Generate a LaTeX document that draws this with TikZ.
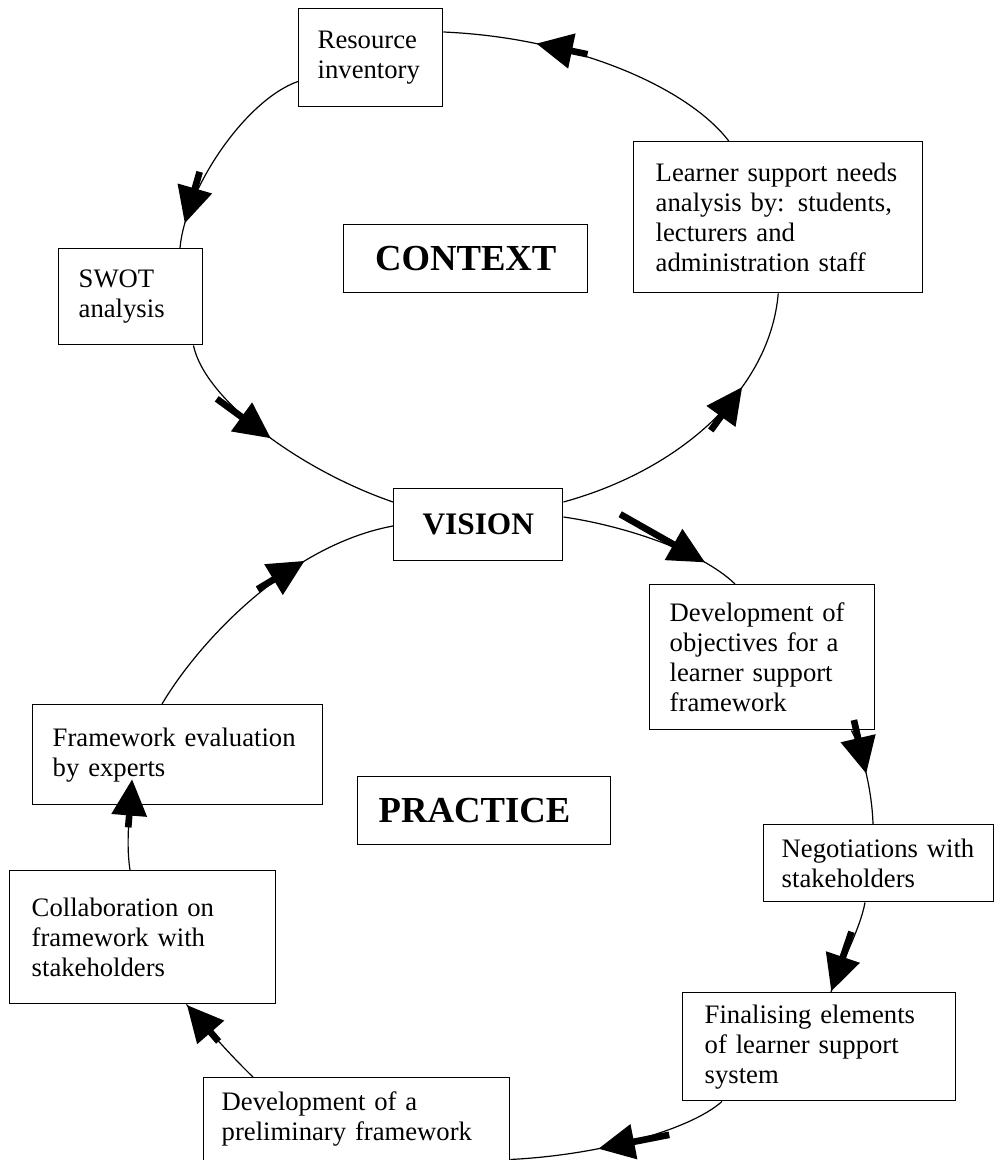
\documentclass[tikz,border=0pt]{standalone}
\usepackage{fontspec}
\setmainfont{Liberation Serif}
\usetikzlibrary{calc,decorations.markings}
\begin{document}
\begin{tikzpicture}[x=0.75pt,y=-0.75pt,
  cbox/.style={draw, line width=1.1pt, rectangle, anchor=north west, align=left,
    inner ysep=0pt, font=\fontsize{20}{22.5}\selectfont},
  tbox/.style={draw, line width=1.1pt, rectangle, anchor=north west, inner sep=0pt,
    font=\fontsize{27.5}{30}\selectfont\bfseries},
  conn/.style={line width=0.9pt},
  bigtip/.style n args={3}{postaction={decorate,decoration={markings,
    mark=at position #1 with {\begin{scope}[xshift=#3]
      \draw[line width=5pt] (-#2,0pt) -- (-20pt,0pt);
      \fill (0pt,0pt) -- (-27pt,13.5pt) -- (-27pt,-13.5pt) -- cycle;
    \end{scope}}}}}
]
\useasboundingbox (0,0) rectangle (995,1160);

% boxes
\node[cbox, minimum width=108pt, minimum height=73.5pt, inner xsep=14.25pt, text width=79.5pt] (res) at (298,8) {Resource\\inventory};
\node[cbox, minimum width=216.75pt, minimum height=113.25pt, inner xsep=16.5pt, text width=183.75pt] (learn) at (633,141) {Learner support needs\\analysis by: students,\\lecturers and\\administration staff};
\node[cbox, minimum width=108pt, minimum height=72pt, inner xsep=15pt, text width=78pt] (swot) at (58,248) {SWOT\\analysis};
\node[tbox, minimum width=183pt, minimum height=51pt] (context) at (343,224) {CONTEXT};
\node[tbox, minimum width=126.75pt, minimum height=54pt, font=\fontsize{23.5}{26}\selectfont\bfseries] (vision) at (393,488) {VISION};
\node[cbox, minimum width=168.75pt, minimum height=108.75pt, inner xsep=15pt, text width=138.75pt] (devobj) at (649,584) {Development of\\objectives for a\\learner support\\framework};
\node[cbox, minimum width=217.5pt, minimum height=75pt, inner xsep=15pt, text width=187.5pt] (frame) at (32,704) {Framework evaluation\\by experts};
\node[tbox, minimum width=189.75pt, minimum height=51pt, inner xsep=15.75pt, text width=158.25pt, align=left] (practice) at (357,776) {PRACTICE};
\node[cbox, minimum width=172.5pt, minimum height=57.75pt, inner xsep=13.5pt, text width=145.5pt] (nego) at (763,824) {Negotiations with\\stakeholders};
\node[cbox, minimum width=204.75pt, minimum height=81pt, inner xsep=16.5pt, text width=171.75pt] (final) at (682,992) {Finalising elements\\of learner support\\system};
\node[cbox, minimum width=229.5pt, minimum height=62.25pt, inner xsep=13.5pt, text width=202.5pt] (prelim) at (203,1077) {Development of a\\preliminary framework};
\node[cbox, minimum width=199.5pt, minimum height=99.75pt, inner xsep=16.5pt, text width=166.5pt] (collab) at (9,870) {Collaboration on\\framework with\\stakeholders};

% upper cycle (context)
\draw[conn, bigtip={0.68}{40pt}{0pt}] ($(vision.north east)+(0,14)$) .. controls (680,470) and (770,390) .. (learn.south);
\draw[conn, bigtip={0.7}{39pt}{0pt}] ($(learn.north)+(-49.5,0)$) .. controls (690,90) and (580,38) .. ($(res.north east)+(0,24)$);
\draw[conn, bigtip={0.88}{40pt}{0pt}] ($(res.south west)+(0,-26)$) .. controls (245,100) and (185,190) .. ($(swot.north west)+(122,0)$);
\draw[conn, bigtip={0.47}{50pt}{0pt}] ($(swot.south east)+(-10,0)$) .. controls (205,400) and (300,470) .. ($(vision.north west)+(0,14)$);

% lower cycle (practice)
\draw[conn, bigtip={0.8}{73pt}{0pt}] ($(vision.north east)+(0,29)$) .. controls (620,525) and (700,550) .. ($(devobj.north west)+(86,0)$);
\draw[conn, bigtip={0.47}{41pt}{0pt}] ($(devobj.south east)+(-24,0)$) .. controls (862,750) and (872,790) .. ($(nego.north west)+(110,0)$);
\draw[conn, bigtip={0.99}{47pt}{0pt}] ($(nego.south west)+(102,0)$) .. controls (860,930) and (840,965) .. ($(final.north west)+(149,0)$);
\draw[conn, bigtip={0.6}{54pt}{0pt}] ($(final.south west)+(40,0)$) .. controls (690,1130) and (600,1155) .. ($(prelim.south east)+(0,-2)$);
\draw[conn, bigtip={0.99}{36pt}{0pt}] ($(prelim.north west)+(50,0)$) .. controls (225,1050) and (200,1020) .. ($(collab.south east)+(-90,0)$);
\draw[conn, bigtip={0.99}{36pt}{20pt}] ($(collab.north west)+(121,0)$) .. controls (127,850) and (128,830) .. ($(frame.south west)+(98,0)$);
\draw[conn, bigtip={0.68}{41pt}{0pt}] ($(frame.north west)+(130,0)$) .. controls (200,640) and (290,545) .. ($(vision.north west)+(0,38)$);
\end{tikzpicture}
\end{document}
